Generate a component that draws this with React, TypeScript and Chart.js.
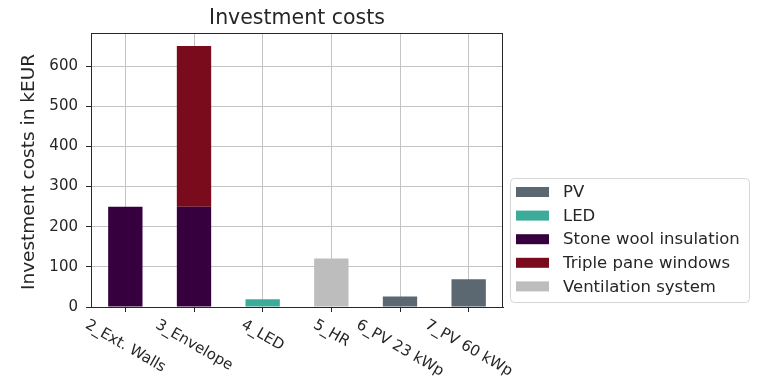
import React, { useEffect, useRef } from "react";
import { Chart, registerables } from "chart.js";

Chart.register(...registerables);

const categories = ["2_Ext. Walls", "3_Envelope", "4_LED", "5_HR", "6_PV 23 kWp", "7_PV 60 kWp"];
const pvValues = [0, 0, 0, 0, 26, 69];
const ledValues = [0, 0, 19, 0, 0, 0];
const stoneWoolValues = [250, 250, 0, 0, 0, 0];
const tripleValues = [0, 400, 0, 0, 0, 0];
const ventilationValues = [0, 0, 0, 121, 0, 0];
const yTicks = [0, 100, 200, 300, 400, 500, 600];

const seriesNames = ["PV", "LED", "Stone wool insulation", "Triple pane windows", "Ventilation system"];
const seriesColors = ["#5b6872", "#3dab9a", "#35003d", "#7a0b1c", "#bdbdbd"];

const FONT = "'DejaVu Sans', sans-serif";
const TEXT = "#262626";
const GRID = "#c4c4c4";

const decorPlugin = {
  id: "decor",
  afterDraw(chart: any) {
    const ctx = chart.ctx;
    const ca = chart.chartArea;
    const xs = chart.scales.x;
    ctx.save();
    // frame
    ctx.strokeStyle = TEXT;
    ctx.lineWidth = 1;
    ctx.strokeRect(Math.round(ca.left) + 0.5, Math.round(ca.top) + 0.5, Math.round(ca.right - ca.left) - 1, Math.round(ca.bottom - ca.top));

    // title
    ctx.fillStyle = TEXT;
    ctx.font = `20.5px ${FONT}`;
    ctx.textAlign = "center";
    ctx.textBaseline = "alphabetic";
    ctx.fillText("Investment costs", (ca.left + ca.right) / 2, 23.5);

    // y label
    ctx.save();
    ctx.translate(29, (ca.top + ca.bottom) / 2 + 2);
    ctx.rotate(-Math.PI / 2);
    ctx.font = `18.5px ${FONT}`;
    ctx.textBaseline = "middle";
    ctx.fillText("Investment costs in kEUR", 0, 0);
    ctx.restore();

    // rotated x tick labels (-30deg, centered bbox)
    const theta = (30 * Math.PI) / 180;
    ctx.font = `15px ${FONT}`;
    const labels = chart.data.labels as string[];
    labels.forEach((lab, i) => {
      const x = xs.getPixelForTick(i);
      const w = ctx.measureText(lab).width;
      const h = 15 * 1.05;
      const H = w * Math.sin(theta) + h * Math.cos(theta);
      const y0 = ca.bottom + 10;
      ctx.save();
      ctx.translate(x, y0 + H / 2);
      ctx.rotate(theta);
      ctx.textAlign = "center";
      ctx.textBaseline = "middle";
      ctx.fillText(lab, 0, 0);
      ctx.restore();
    });

    // legend
    const lx = ca.right + 7;
    const ly = 178;
    const lw = 239;
    const lh = 124;
    ctx.beginPath();
    (ctx as any).roundRect(lx + 0.5, ly + 0.5, lw, lh, 4);
    ctx.fillStyle = "rgba(255,255,255,0.8)";
    ctx.fill();
    ctx.strokeStyle = "#d6d6d6";
    ctx.stroke();
    ctx.font = `16.5px ${FONT}`;
    ctx.textAlign = "left";
    ctx.textBaseline = "middle";
    chart.data.datasets.forEach((ds: any, i: number) => {
      const cy = 192 + i * 23.6;
      ctx.fillStyle = ds.backgroundColor;
      ctx.fillRect(lx + 6, cy - 5, 33, 10);
      ctx.fillStyle = TEXT;
      ctx.fillText(ds.label, lx + 53, cy + 1);
    });
    ctx.restore();
  },
};

export default function App() {
  const ref = useRef<HTMLCanvasElement | null>(null);
  useEffect(() => {
    if (!ref.current) return;
    const values = [pvValues, ledValues, stoneWoolValues, tripleValues, ventilationValues];
    const chart = new Chart(ref.current, {
      type: "bar",
      data: {
        labels: categories,
        datasets: values.map((v, i) => ({
          label: seriesNames[i],
          data: v,
          backgroundColor: seriesColors[i],
          borderWidth: 0,
          categoryPercentage: 1,
          barPercentage: 0.5,
        })),
      },
      options: {
        responsive: false,
        animation: false,
        layout: { padding: { top: 33, right: 268, left: 0, bottom: 0 } },
        plugins: { legend: { display: false }, title: { display: false }, tooltip: { enabled: false } },
        scales: {
          x: {
            stacked: true,
            offset: true,
            grid: { offset: false, color: GRID, tickColor: TEXT, tickLength: 5, lineWidth: 1 },
            border: { display: true, color: TEXT },
            ticks: { display: false, autoSkip: false },
            afterFit: (s: any) => {
              s.height = 80;
            },
          },
          y: {
            stacked: true,
            min: 0,
            max: 682.5,
            grid: { color: GRID, tickColor: TEXT, tickLength: 5, lineWidth: 1 },
            border: { display: true, color: TEXT },
            ticks: { color: TEXT, padding: 8, font: { family: FONT, size: 15 } },
            afterBuildTicks: (s: any) => {
              s.ticks = yTicks.map((v) => ({ value: v }));
            },
            afterFit: (s: any) => {
              s.width = 91;
            },
          },
        },
      },
      plugins: [decorPlugin],
    });
    return () => chart.destroy();
  }, []);
  return (
    <div style={{ position: "absolute", left: 0, top: 0, width: 771, height: 387, background: "#fff" }}>
      <canvas ref={ref} width={771} height={387} style={{ display: "block" }} />
    </div>
  );
}
